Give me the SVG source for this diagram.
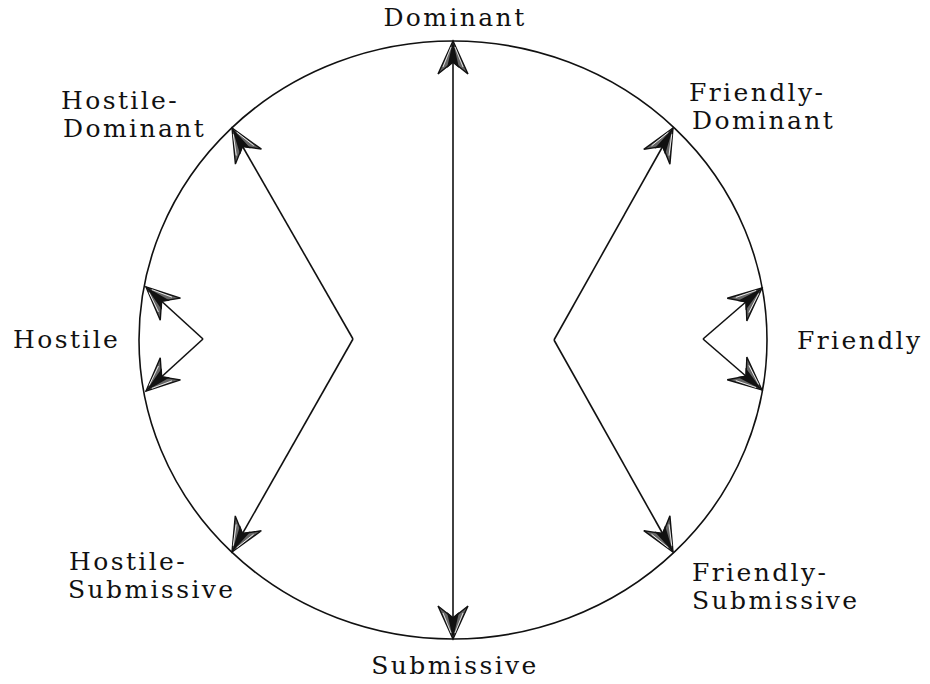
<svg xmlns="http://www.w3.org/2000/svg" width="930" height="684" viewBox="0 0 930 684">
<style>
.lbl{font-family:"DejaVu Serif","Liberation Serif",serif;font-size:25px;letter-spacing:2.4px;fill:#111}
.ln{stroke:#111;stroke-width:1.6;fill:none}
</style>
<defs>
<marker id="ah" markerUnits="userSpaceOnUse" viewBox="-36 -17 40 34" markerWidth="40" markerHeight="34" refX="0" refY="0" orient="auto-start-reverse">
<path d="M0,0 L-33,-15 L-21,0 L-33,15 Z" fill="#666" stroke="#111" stroke-width="1.4" stroke-linejoin="miter"/>
<path d="M0,0 L-27,-6 L-22,0 L-27,6 Z" fill="#111"/>
<path d="M-6,-2 L-26,-10 M-6,2 L-26,10" stroke="#fff" stroke-width="0.8"/>
</marker>
</defs>
<rect width="930" height="684" fill="#fff"/>
<g id="circle">
<ellipse cx="453" cy="340" rx="314" ry="299" class="ln"/>
</g>
<g id="connectors" class="ln">
<line x1="453" y1="41" x2="453" y2="639" marker-start="url(#ah)" marker-end="url(#ah)"/>
<line x1="353" y1="339" x2="232" y2="128" marker-end="url(#ah)"/>
<line x1="353" y1="339" x2="232" y2="552" marker-end="url(#ah)"/>
<line x1="203" y1="339" x2="146" y2="287" marker-end="url(#ah)"/>
<line x1="203" y1="339" x2="146" y2="391" marker-end="url(#ah)"/>
<line x1="554" y1="340" x2="673" y2="128" marker-end="url(#ah)"/>
<line x1="554" y1="340" x2="673" y2="552" marker-end="url(#ah)"/>
<line x1="703" y1="339" x2="762" y2="288" marker-end="url(#ah)"/>
<line x1="703" y1="339" x2="762" y2="390" marker-end="url(#ah)"/>
</g>
<g id="dominant"><text class="lbl" x="455" y="26" text-anchor="middle">Dominant</text></g>
<g id="submissive"><text class="lbl" x="455" y="674" text-anchor="middle">Submissive</text></g>
<g id="hostile"><text class="lbl" x="13" y="348">Hostile</text></g>
<g id="friendly"><text class="lbl" x="797" y="349">Friendly</text></g>
<g id="hostile-dominant"><text class="lbl" x="61" y="109">Hostile-</text><text class="lbl" x="63" y="137">Dominant</text></g>
<g id="friendly-dominant"><text class="lbl" x="689" y="101">Friendly-</text><text class="lbl" x="692" y="129">Dominant</text></g>
<g id="hostile-submissive"><text class="lbl" x="69" y="570">Hostile-</text><text class="lbl" x="68" y="598">Submissive</text></g>
<g id="friendly-submissive"><text class="lbl" x="692" y="581">Friendly-</text><text class="lbl" x="692" y="609">Submissive</text></g>
</svg>
